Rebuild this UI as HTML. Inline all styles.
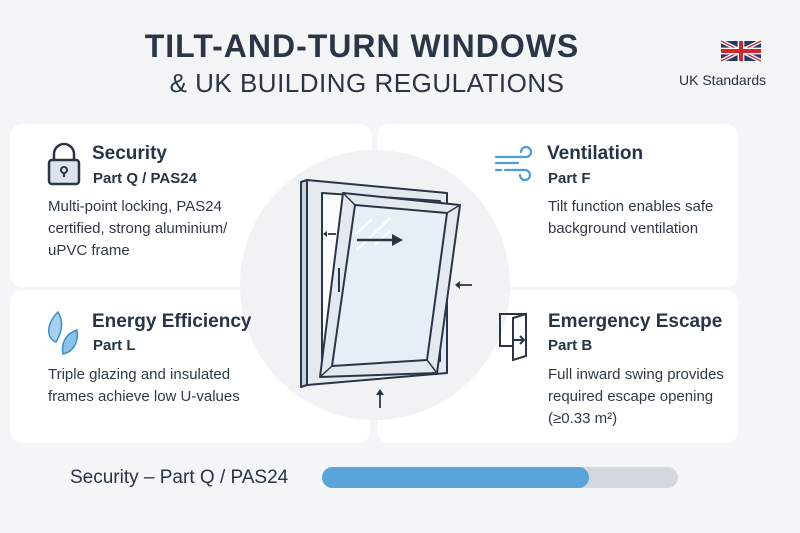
<!DOCTYPE html>
<html><head><meta charset="utf-8"><style>
*{margin:0;padding:0;box-sizing:border-box}
body{width:800px;height:533px;background:#f4f5f6;font-family:"Liberation Sans",sans-serif;color:#263445;position:relative;overflow:hidden}
.a{position:absolute;white-space:nowrap}
.card{position:absolute;background:#fff;border-radius:12px}
.h{font-size:19px;font-weight:bold;color:#263445}
.p{font-size:15px;font-weight:bold;color:#263445}
.t{font-size:15px;line-height:22px;color:#2e3a48}
</style></head><body>
<div class="a" style="left:0;width:724px;top:28px;text-align:center;font-size:32px;font-weight:bold;letter-spacing:1px;color:#2a3645">TILT-AND-TURN WINDOWS</div>
<div class="a" style="left:0;width:734px;top:68px;text-align:center;font-size:26px;letter-spacing:0.5px;color:#2a3645">&amp; UK BUILDING REGULATIONS</div>
<svg class="a" style="left:721px;top:38px" width="40" height="26" viewBox="0 0 60 30"><rect width="60" height="30" fill="#243a66"/><path d="M0,0L60,30M60,0L0,30" stroke="#fff" stroke-width="6"/><path d="M0,0L60,30M60,0L0,30" stroke="#d8242d" stroke-width="2"/><path d="M30,0V30M0,15H60" stroke="#fff" stroke-width="10"/><path d="M30,0V30M0,15H60" stroke="#d8242d" stroke-width="6"/></svg>
<div class="a" style="left:679px;top:72px;font-size:14px;color:#263445">UK Standards</div>

<div class="card" style="left:10px;top:124px;width:362px;height:163px"></div>
<div class="card" style="left:377px;top:124px;width:361px;height:163px"></div>
<div class="card" style="left:10px;top:290px;width:360px;height:153px"></div>
<div class="card" style="left:377px;top:290px;width:361px;height:153px"></div>
<div class="a" style="left:240px;top:150px;width:270px;height:270px;border-radius:50%;background:#f1f2f3"></div>

<svg class="a" style="left:0;top:0" width="800" height="533">
<!-- lock -->
<path d="M54,160v-6a10,10 0 0 1 20,0v6" fill="none" stroke="#2a3645" stroke-width="2.5"/>
<rect x="49" y="160" width="30" height="24" rx="3" fill="#dbe4ee" stroke="#2a3645" stroke-width="2.5"/>
<circle cx="64" cy="170" r="3" fill="none" stroke="#2a3645" stroke-width="2"/><path d="M64,173v4" stroke="#2a3645" stroke-width="2"/>
<!-- wind -->
<g fill="none" stroke="#4a9ede" stroke-width="2.2" stroke-linecap="round">
<path d="M496,157h30a5,5 0 1 0 -5,-5"/><path d="M496,163h22"/><path d="M505,170h20a5,5 0 1 1 -5,5"/><path d="M496,170h5"/></g>
<!-- leaves -->
<path d="M58,312c-12,12 -12,26 -2,30c6,-10 8,-20 2,-30z" fill="#a8d0ee" stroke="#3a8fd0" stroke-width="1.5"/>
<path d="M77,330c-12,4 -16,14 -14,24c10,-2 16,-12 14,-24z" fill="#8cc2ea" stroke="#3a8fd0" stroke-width="1.5"/>
<!-- door -->
<path d="M513,346h-13v-32h26v10" fill="none" stroke="#2a3645" stroke-width="2"/>
<path d="M513,318l13,-4v42l-13,4z" fill="#fff" stroke="#2a3645" stroke-width="2"/>
<path d="M512,340h12m-4,-4l4,4l-4,4" fill="none" stroke="#2a3645" stroke-width="2"/>
<!-- window -->
<g stroke="#2a3645" stroke-width="2" stroke-linejoin="round">
<path d="M301,182l6,-2v205l-6,2z" fill="#c9d3dc"/>
<path d="M307,180l140,13v180l-140,12z" fill="#e3e9ef"/>
<path d="M322,193l118,8v160l-118,14z" fill="#fbfcfd"/>
<path d="M343,193l117,12l-23,168l-117,4z" fill="#e3e9ef"/>
<path d="M355,205l92,8l-20,147l-95,6z" fill="#e6eef6"/>
<path d="M343,193l12,12M460,205l-13,8M437,373l-10,-13M320,377l12,-11" fill="none" stroke-width="1.5"/>
</g>
<path d="M356,234l16,-15M357,250l34,-33M375,245l15,-14" stroke="#fff" stroke-width="2"/>
<path d="M339,268v24" stroke="#2a3645" stroke-width="2"/>
<g stroke="#2a3645" stroke-width="2.5" fill="#2a3645">
<path d="M357,240h36"/><path d="M392,234l11,6l-11,6z" stroke="none"/>
<path d="M336,234h-8" stroke-width="1.8"/><path d="M327,231l-4,3l4,3z" stroke="none"/>
<path d="M472,285h-12" stroke-width="1.8"/><path d="M460,281l-5,4l5,4z" stroke="none"/>
<path d="M380,408v-14" stroke-width="1.8"/><path d="M376,395l4,-6l4,6z" stroke="none"/>
</g>
<rect x="322" y="467" width="356" height="21" rx="10.5" fill="#d3d8df"/>
<rect x="322" y="467" width="267" height="21" rx="10.5" fill="#5ba4d9"/>
</svg>

<div class="a h" style="left:92px;top:143px">Security</div>
<div class="a p" style="left:93px;top:170px">Part Q / PAS24</div>
<div class="a t" style="left:48px;top:196px">Multi-point locking, PAS24<br>certified, strong aluminium/<br>uPVC frame</div>

<div class="a h" style="left:547px;top:143px">Ventilation</div>
<div class="a p" style="left:548px;top:170px">Part F</div>
<div class="a t" style="left:548px;top:196px">Tilt function enables safe<br>background ventilation</div>

<div class="a h" style="left:92px;top:311px">Energy Efficiency</div>
<div class="a p" style="left:93px;top:337px">Part L</div>
<div class="a t" style="left:48px;top:364px">Triple glazing and insulated<br>frames achieve low U-values</div>

<div class="a h" style="left:548px;top:311px">Emergency Escape</div>
<div class="a p" style="left:548px;top:337px">Part B</div>
<div class="a t" style="left:548px;top:364px">Full inward swing provides<br>required escape opening<br>(≥0.33 m²)</div>

<div class="a" style="left:70px;top:467px;font-size:19px;color:#263445">Security – Part Q / PAS24</div>
</body></html>
